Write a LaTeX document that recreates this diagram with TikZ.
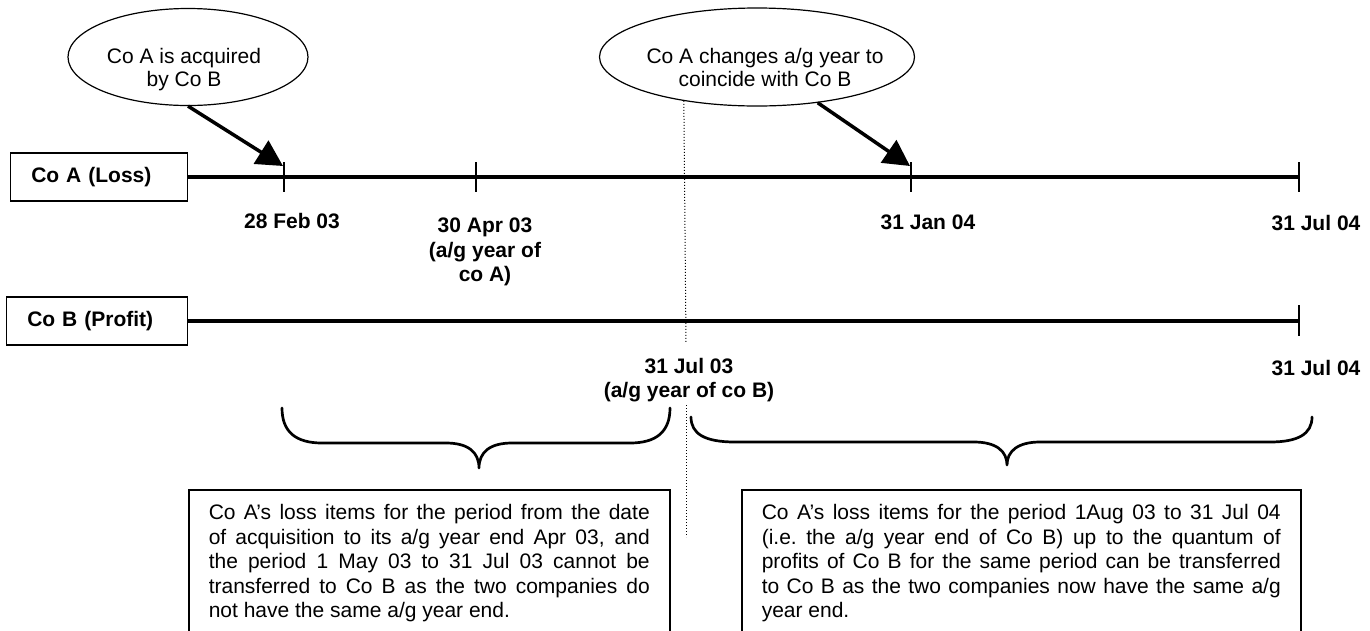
\documentclass[tikz,border=0pt]{standalone}
\usepackage{fontspec}
\setmainfont{Liberation Sans}
\usetikzlibrary{arrows.meta,shapes.geometric}
\setlength{\parindent}{0pt}
\AtBeginDocument{\fontsize{21pt}{24.5pt}\selectfont}

\tikzset{
  bubble/.style={draw, ellipse, line width=1.2pt, inner sep=0pt},
  bubbletext/.style={align=center, inner sep=0pt, font=\fontsize{21pt}{23pt}\selectfont},
  lanebox/.style={draw, line width=1.5pt, font=\bfseries, minimum height=48pt, inner xsep=21pt, anchor=east, align=left},
  datelbl/.style={anchor=north, inner sep=0pt, align=center, font=\bfseries},
  notebox/.style={draw, line width=1.5pt, anchor=north west, inner xsep=20pt, inner ysep=15pt, align=justify},
  tline/.style={line width=3.5pt},
  tick/.style={line width=1.3pt},
  pointer/.style={line width=3.5pt, -{Triangle[length=26pt,width=27pt]}},
  guide/.style={line width=1pt, dash pattern=on 1pt off 2pt},
  curly/.style={line width=2.7pt, line join=round, line cap=round}
}

\begin{document}
\begin{tikzpicture}[x=1pt,y=-1pt]
  \useasboundingbox (0,0) rectangle (1370,630);
  \clip (0,0) rectangle (1370,630);
  % companies
  \node[lanebox, text width=135pt] (coabox) at (188,177) {Co A (Loss)};
  \node[lanebox, text width=139pt] (cobbox) at (188,321) {Co B (Profit)};
  \coordinate (coaend) at (1299,177);
  \coordinate (cobend) at (1299,321);
  \draw[tline] (coabox.east) -- (coaend);
  \draw[tline] (cobbox.east) -- (cobend);

  % ticks
  \draw[tick] (284,162) -- (284,192);
  \draw[tick] (476,162) -- (476,192);
  \draw[tick] (911,162) -- (911,192);
  \draw[tick] (1299,162) -- (1299,192);
  \draw[tick] (1299,305) -- (1299,336);

  % dates
  \node[datelbl] (feblbl) at (292,213) {28 Feb 03};
  \node[datelbl] (aprlbl) at (485,218) {30 Apr 03\\(a/g year of\\co A)};
  \node[datelbl] (janlbl) at (928,215) {31 Jan 04};
  \node[datelbl] (julalbl) at (1316,215) {31 Jul 04};
  \node[datelbl] (jul03lbl) at (689,358) {31 Jul 03\\(a/g year of co B)};
  \node[datelbl] (julblbl) at (1316,360) {31 Jul 04};

  % bubbles
  \node[bubble, minimum width=240pt, minimum height=97pt] (acq) at (188,57) {};
  \node[bubbletext, anchor=north] (acqtxt) at (184,48) {Co A is acquired\\by Co B};
  \node[bubble, minimum width=315pt, minimum height=98pt] (chg) at (757,57) {};
  \node[bubbletext, anchor=north] (chgtxt) at (765,48) {Co A changes a/g year to\\coincide with Co B};

  \coordinate (febtip) at (283,166);
  \coordinate (jantip) at (910,166);
  \draw[pointer] (acq.south) -- (febtip);
  \draw[pointer] (chg.-37) -- (jantip);

  % split between the two a/g years
  \coordinate (gaptop) at (686,343);
  \coordinate (gapbot) at (686,405);
  \coordinate (dotend) at (686,537);
  \draw[guide] (chg.211.8) -- (gaptop);
  \draw[guide] (gapbot) -- (dotend);

  % braces
  \draw[curly] (282,408) .. controls (282,432) and (296,443) .. (322,443) -- (446,443) .. controls (468,443) and (479,452) .. (479,468) .. controls (479,452) and (490,443) .. (512,443) -- (630,443) .. controls (656,443) and (670,432) .. (670,408);
  \draw[curly] (691,417) .. controls (691,434) and (705,442) .. (735,442) -- (974,442) .. controls (996,442) and (1007,451) .. (1007,465) .. controls (1007,451) and (1018,442) .. (1040,442) -- (1270,442) .. controls (1298,442) and (1312,434) .. (1312,417);

  % notes
  \node[notebox, text width=441pt] (leftnote) at (188,489) {Co A’s loss items for the period from the date\linebreak of acquisition to its a/g year end Apr 03, and\linebreak the period 1 May 03 to 31 Jul 03 cannot be\linebreak transferred to Co B as the two companies do\linebreak not have the same a/g year end.};
  \node[notebox, text width=519pt] (rightnote) at (741,489) {Co A’s loss items for the period 1Aug 03 to 31 Jul 04\linebreak (i.e.\ the a/g year end of Co B) up to the quantum of\linebreak profits of Co B for the same period can be transferred\linebreak to Co B as the two companies now have the same a/g\linebreak year end.};
\end{tikzpicture}
\end{document}
